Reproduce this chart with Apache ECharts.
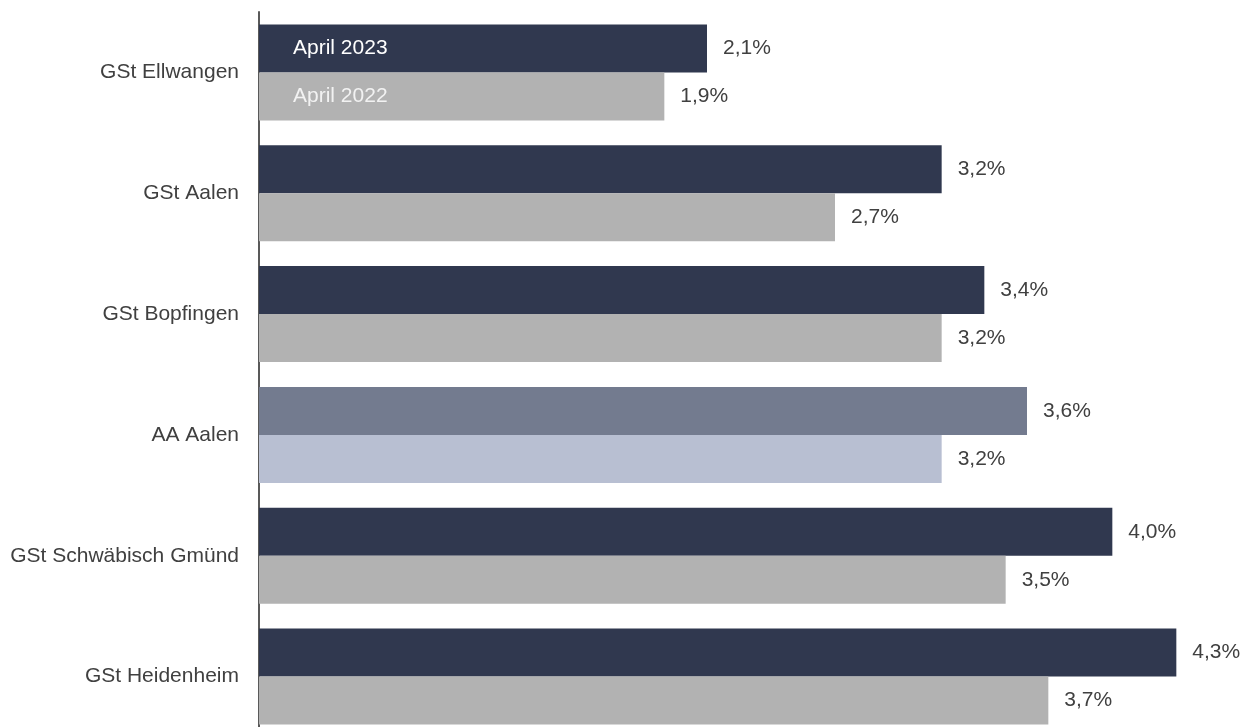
<!DOCTYPE html>
<html>
<head>
<meta charset="utf-8">
<script src="https://cdn.jsdelivr.net/npm/echarts@6/dist/echarts.min.js"></script>
<style>
  html, body { margin: 0; padding: 0; background: #fff; }
  #chart { width: 1247px; height: 727px; }
</style>
</head>
<body>
<div id="chart"></div>
<script>
// Arbeitslosenquote je Geschäftsstelle
const categories = ['GSt Ellwangen', 'GSt Aalen', 'GSt Bopfingen', 'AA Aalen', 'GSt Schwäbisch Gmünd', 'GSt Heidenheim'];
const seriesNames = ['April 2023', 'April 2022'];
const values2023 = [2.1, 3.2, 3.4, 3.6, 4.0, 4.3];
const values2022 = [1.9, 2.7, 3.2, 3.2, 3.5, 3.7];
const highlight = 'AA Aalen';

var chartDom = document.getElementById('chart');
var myChart = echarts.init(chartDom);
var FONT = 'Liberation Sans, Arial, sans-serif';

function pct(p) {
    return p.value.toFixed(1).replace('.', ',') + '%';
}

function buildData(vals, strong) {
    return vals.map(function (v, i) {
        var item = { value: v };
        if (categories[i] === highlight) {
            item.itemStyle = { color: strong };
        }
        return item;
    });
}

// leerer Balken am Anfang, traegt nur den Seriennamen im ersten Balken
function nameSeries(name, stack, color) {
    return {
        name: name + ' ',
        type: 'bar',
        stack: stack,
        barWidth: 48,
        barGap: 0,
        silent: true,
        itemStyle: { color: 'transparent' },
        label: {
            show: true,
            position: 'right',
            distance: 34,
            color: color,
            fontSize: 21,
            fontFamily: FONT,
            formatter: name
        },
        z: 5,
        data: categories.map(function (c, i) { return i === 0 ? 0 : '-'; })
    };
}

function valueSeries(name, stack, color, strong, vals) {
    return {
        name: name,
        type: 'bar',
        stack: stack,
        barWidth: 48,
        barGap: 0,
        itemStyle: { color: color },
        label: {
            show: true,
            position: 'right',
            distance: 16,
            color: '#404040',
            fontSize: 21,
            fontFamily: FONT,
            formatter: pct
        },
        data: buildData(vals, strong)
    };
}

var option = {
    animation: false,
    grid: { left: 259, right: 28, top: 12, bottom: -10, outerBoundsMode: 'none' },
    xAxis: {
        type: 'value',
        min: 0,
        max: 4.5,
        show: false
    },
    yAxis: {
        type: 'category',
        inverse: true,
        data: categories,
        axisTick: { show: false },
        axisLine: { lineStyle: { color: '#595959', width: 2 } },
        axisLabel: {
            color: '#404040',
            fontSize: 21,
            fontFamily: FONT,
            margin: 20
        }
    },
    series: [
        nameSeries(seriesNames[0], 's23', '#ffffff'),
        valueSeries(seriesNames[0], 's23', '#30384f', '#737b8f', values2023),
        nameSeries(seriesNames[1], 's22', '#f2f2f2'),
        valueSeries(seriesNames[1], 's22', '#b2b2b2', '#b8bfd2', values2022)
    ]
};

option && myChart.setOption(option);
</script>
</body>
</html>
